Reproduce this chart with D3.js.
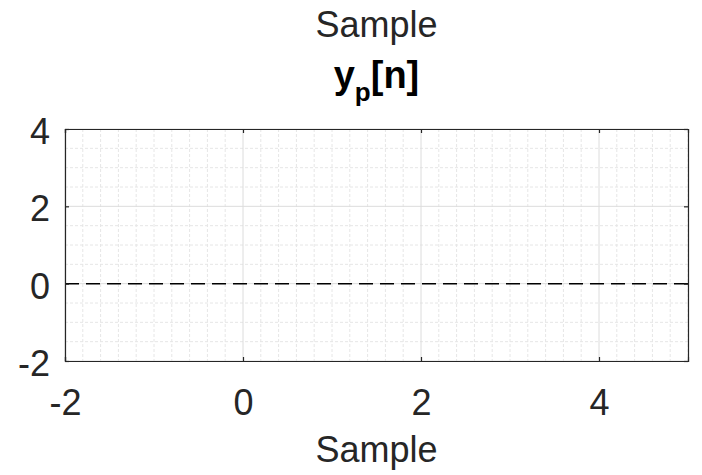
<!DOCTYPE html>
<html>
<head>
<meta charset="utf-8">
<script src="https://cdn.jsdelivr.net/npm/d3@7"></script>
<style>
  body { margin: 0; background: #fff; }
  svg { display: block; font-family: "Liberation Sans", Arial, sans-serif; }
</style>
</head>
<body>
<div id="chart-container"></div>
<script>
// Axis limits and tick positions
const xDomain = [-2, 5];
const yDomain = [-2, 4];
const xTicks = [-2, 0, 2, 4];
const yTicks = [-2, 0, 2, 4];
const xMinorStep = 0.2;
const yMinorStep = 0.5;

// The only plotted series: y_p[n] is flat at zero over the axis range
const seriesX = [-2, 5];
const seriesY = [0, 0];

const WIDTH = 702, HEIGHT = 475;
const margin = { top: 129, right: 14, bottom: 114, left: 65 };
const axisWidth = WIDTH - margin.left - margin.right;
const axisHeight = HEIGHT - margin.top - margin.bottom;
const TEXT = '#262626';
const FONT_SIZE = 36;

const canvas = d3.select('#chart-container').append('svg')
    .attr('width', WIDTH)
    .attr('height', HEIGHT);

const plot = canvas.append('g')
    .attr('transform', `translate(${margin.left},${margin.top})`);

const xScale = d3.scaleLinear().domain(xDomain).range([0, axisWidth]);
const yScale = d3.scaleLinear().domain(yDomain).range([axisHeight, 0]);

// Minor grid (dotted) first, major grid on top
const xMinor = d3.range(xDomain[0], xDomain[1] + 1e-9, xMinorStep)
    .filter(v => !xTicks.some(t => Math.abs(t - v) < 1e-6));
const yMinor = d3.range(yDomain[0], yDomain[1] + 1e-9, yMinorStep)
    .filter(v => !yTicks.some(t => Math.abs(t - v) < 1e-6));

plot.append('g').selectAll('line')
    .data(xMinor)
    .enter()
    .append('line')
        .attr('x1', d => xScale(d)).attr('x2', d => xScale(d))
        .attr('y1', 0).attr('y2', axisHeight)
        .attr('stroke', '#e6e6e6')
        .attr('stroke-dasharray', '3,2');
plot.append('g').selectAll('line')
    .data(yMinor)
    .enter()
    .append('line')
        .attr('y1', d => yScale(d)).attr('y2', d => yScale(d))
        .attr('x1', 0).attr('x2', axisWidth)
        .attr('stroke', '#e6e6e6')
        .attr('stroke-dasharray', '3,2');

// Major grid lines
plot.append('g').selectAll('line')
    .data(xTicks)
    .enter()
    .append('line')
        .attr('x1', d => xScale(d)).attr('x2', d => xScale(d))
        .attr('y1', 0).attr('y2', axisHeight)
        .attr('stroke', '#dcdcdc');
plot.append('g').selectAll('line')
    .data(yTicks)
    .enter()
    .append('line')
        .attr('y1', d => yScale(d)).attr('y2', d => yScale(d))
        .attr('x1', 0).attr('x2', axisWidth)
        .attr('stroke', '#dcdcdc');

// The data line
const line = d3.line()
    .x((d, i) => xScale(seriesX[i]))
    .y(d => yScale(d));
plot.append('path')
    .datum(seriesY)
    .attr('d', line)
    .attr('fill', 'none')
    .attr('stroke', '#000')
    .attr('stroke-width', 1.5)
    .attr('stroke-dasharray', '14,7');

// Axes: ticks point inward, MATLAB style box on all four sides
const TICK = 4;
const fmt = d => String(d);
const bottomAxis = d3.axisBottom(xScale).tickValues(xTicks).tickSize(-TICK).tickPadding(28).tickFormat(fmt);
const topAxis = d3.axisTop(xScale).tickValues(xTicks).tickSize(-TICK).tickFormat('');
const leftAxis = d3.axisLeft(yScale).tickValues(yTicks).tickSize(-TICK).tickPadding(15).tickFormat(fmt);
const rightAxis = d3.axisRight(yScale).tickValues(yTicks).tickSize(-TICK).tickFormat('');

function styleAxis(g) {
    g.select('.domain').attr('stroke', TEXT).attr('stroke-width', 1.2);
    g.selectAll('.tick line').attr('stroke', TEXT).attr('stroke-width', 1.2);
    g.selectAll('.tick text')
        .attr('fill', TEXT)
        .attr('font-size', FONT_SIZE)
        .attr('font-family', '"Liberation Sans", Arial, sans-serif');
}

plot.append('g')
    .attr('transform', `translate(0,${axisHeight})`)
    .call(bottomAxis)
    .call(styleAxis);
plot.append('g')
    .call(topAxis)
    .call(styleAxis);
plot.append('g')
    .call(leftAxis)
    .call(styleAxis)
    .selectAll('.tick text')
        .attr('dy', '0.4em');
plot.append('g')
    .attr('transform', `translate(${axisWidth},0)`)
    .call(rightAxis)
    .call(styleAxis);

// Titles and label
canvas.append('text')
    .attr('x', margin.left + axisWidth / 2)
    .attr('y', 37)
    .attr('fill', TEXT)
    .attr('font-size', FONT_SIZE)
    .style('text-anchor', 'middle')
    .text('Sample');

const subtitle = canvas.append('text')
    .attr('x', margin.left + axisWidth / 2)
    .attr('y', 88)
    .attr('fill', '#000')
    .attr('font-size', 38)
    .attr('font-weight', 'bold')
    .style('text-anchor', 'middle');
subtitle.append('tspan').text('y');
subtitle.append('tspan').attr('dy', 13).attr('font-size', 26).text('p');
subtitle.append('tspan').attr('dy', -13).text('[n]');

canvas.append('text')
    .attr('x', margin.left + axisWidth / 2)
    .attr('y', 462)
    .attr('fill', TEXT)
    .attr('font-size', FONT_SIZE)
    .style('text-anchor', 'middle')
    .text('Sample');
</script>
</body>
</html>
